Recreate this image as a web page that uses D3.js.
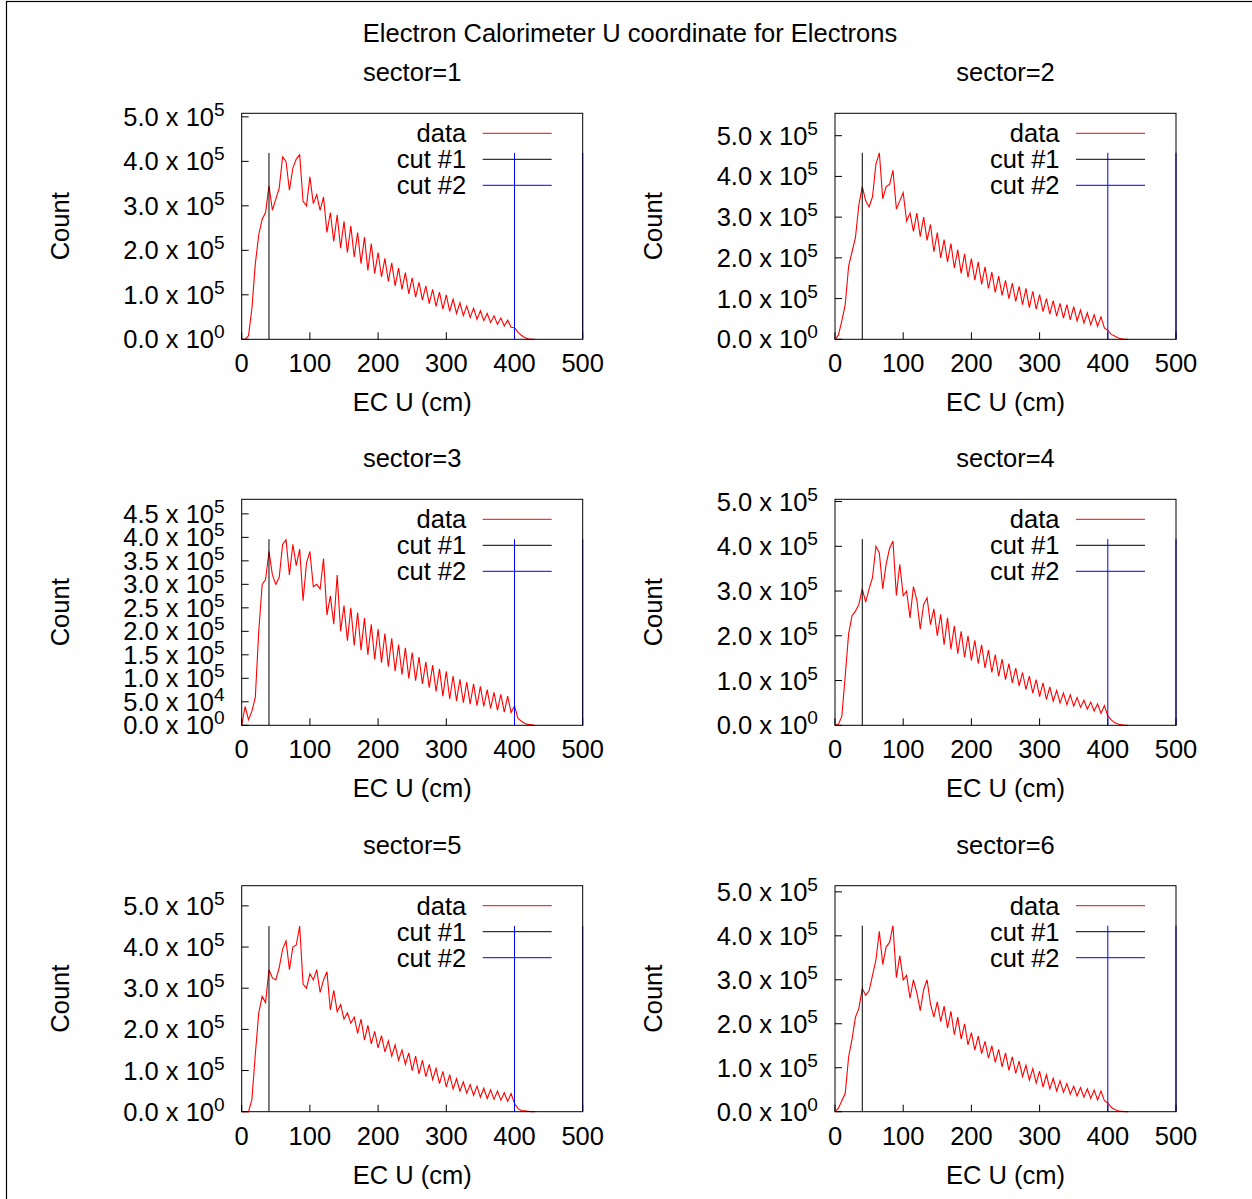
<!DOCTYPE html>
<html>
<head>
<meta charset="utf-8">
<script src="https://cdn.jsdelivr.net/npm/d3@7"></script>
<style>
  body { margin: 0; background: #fff; }
  svg { display: block; font-family: "Liberation Sans", Arial, Helvetica, sans-serif; }
</style>
</head>
<body>
<svg id="chart" width="1252" height="1199"></svg>
<script>
// EC U bin positions (cm)
const ecU = [
  0, 5, 10, 15, 20, 25, 30, 35, 40, 45,
  50, 55, 60, 65, 70, 75, 80, 85, 90, 95,
  100, 105, 110, 115, 120, 125, 130, 135, 140, 145,
  150, 155, 160, 165, 170, 175, 180, 185, 190, 195,
  200, 205, 210, 215, 220, 225, 230, 235, 240, 245,
  250, 255, 260, 265, 270, 275, 280, 285, 290, 295,
  300, 305, 310, 315, 320, 325, 330, 335, 340, 345,
  350, 355, 360, 365, 370, 375, 380, 385, 390, 395,
  400, 405, 410, 415, 420, 425, 430
];

// counts per bin, in thousands
const sector1 = [
  0, 0, 8, 70, 170, 235, 270, 285, 345, 290,
  315, 340, 410, 400, 335, 385, 405, 415, 310, 300,
  365, 305, 325, 290, 320, 240, 285, 220, 280, 205,
  265, 195, 255, 185, 240, 170, 230, 155, 215, 148,
  195, 140, 182, 130, 172, 120, 160, 112, 150, 102,
  138, 95, 128, 88, 120, 80, 112, 74, 106, 68,
  100, 63, 90, 58, 82, 53, 75, 49, 70, 45,
  64, 42, 58, 38, 53, 34, 48, 30, 43, 27,
  26, 16, 9, 4, 1, 0, 0
];
const sector2 = [
  0, 10, 45, 85, 180, 215, 250, 330, 375, 340,
  325, 350, 430, 458, 345, 375, 380, 415, 320, 340,
  360, 290, 310, 265, 310, 252, 300, 243, 282, 215,
  262, 200, 245, 190, 235, 175, 220, 162, 210, 152,
  198, 145, 190, 135, 178, 125, 165, 115, 155, 108,
  145, 100, 138, 93, 130, 85, 125, 78, 118, 74,
  110, 68, 100, 62, 95, 57, 88, 52, 85, 48,
  80, 45, 72, 40, 65, 36, 60, 32, 55, 28,
  22, 12, 8, 4, 1, 0, 0
];
const sector3 = [
  0, 40, 12, 30, 60, 200, 300, 310, 370, 320,
  300, 315, 385, 395, 320, 385, 340, 375, 265, 345,
  370, 295, 300, 290, 355, 235, 275, 215, 320, 200,
  255, 180, 250, 170, 240, 160, 228, 150, 215, 140,
  205, 133, 195, 125, 185, 115, 172, 108, 165, 100,
  155, 95, 145, 88, 135, 80, 128, 72, 120, 62,
  115, 56, 105, 52, 98, 48, 92, 45, 88, 42,
  83, 40, 76, 36, 70, 32, 66, 28, 62, 27,
  41, 15, 9, 4, 2, 1, 0
];
const sector4 = [
  0, 2, 20, 110, 205, 245, 255, 270, 305, 275,
  305, 330, 400, 385, 305, 360, 395, 412, 290, 360,
  290, 300, 240, 310, 280, 215, 270, 285, 225, 260,
  200, 248, 180, 240, 170, 222, 160, 210, 152, 200,
  145, 190, 138, 180, 128, 168, 118, 158, 110, 148,
  102, 138, 95, 128, 88, 118, 80, 110, 72, 102,
  64, 95, 58, 86, 54, 78, 50, 72, 46, 68,
  43, 62, 40, 56, 36, 52, 32, 48, 27, 44,
  21, 12, 6, 3, 1, 0, 0
];
const sector5 = [
  0, 0, 0, 30, 140, 240, 280, 265, 345, 325,
  320, 350, 395, 415, 345, 400, 405, 451, 310, 300,
  335, 320, 345, 290, 320, 340, 247, 295, 243, 260,
  225, 240, 215, 230, 190, 225, 174, 210, 165, 195,
  155, 185, 145, 172, 135, 162, 125, 150, 115, 143,
  100, 135, 92, 125, 85, 115, 78, 105, 68, 98,
  60, 90, 55, 80, 50, 72, 45, 66, 40, 62,
  35, 57, 32, 53, 30, 50, 28, 46, 25, 44,
  20, 8, 3, 2, 1, 0, 0
];
const sector6 = [
  0, 8, 25, 42, 125, 165, 215, 235, 280, 265,
  275, 310, 345, 410, 335, 375, 385, 423, 305, 355,
  300, 310, 258, 300, 270, 230, 278, 300, 245, 215,
  250, 205, 240, 190, 228, 175, 215, 165, 200, 152,
  180, 140, 172, 132, 160, 122, 150, 112, 142, 102,
  134, 94, 125, 87, 115, 80, 106, 72, 98, 65,
  92, 56, 84, 52, 76, 47, 70, 44, 64, 40,
  58, 36, 55, 33, 52, 30, 49, 27, 47, 25,
  20, 10, 5, 2, 1, 0, 0
];
const sectorCounts = [sector1, sector2, sector3, sector4, sector5, sector6];
const sectorTitles = ['sector=1', 'sector=2', 'sector=3', 'sector=4', 'sector=5', 'sector=6'];

// y axis top and tick spacing per panel
const yMaxes = [5.08e5, 5.55e5, 4.81e5, 5.05e5, 5.49e5, 5.14e5];
const yTickSteps = [1e5, 1e5, 5e4, 1e5, 1e5, 1e5];
const xTicks = [0, 100, 200, 300, 400, 500];

// cut lines
const cut1 = [40];
const cut2 = [400, 500];
const cutTops = [4.19e5, 4.58e5, 3.96e5, 4.16e5, 4.51e5, 4.23e5];

const legendLabels = ['data', 'cut #1', 'cut #2'];
const legendColors = ['#ff0000', '#000000', '#0000ff'];

const mainTitle = 'Electron Calorimeter U coordinate for Electrons';
const xLabel = 'EC U (cm)';
const yLabel = 'Count';

const svg = d3.select('#chart');
const fs = 25.5;

svg.append('rect')
  .attr('x', 6.5).attr('y', 1.5)
  .attr('width', 1400).attr('height', 1400)
  .attr('fill', 'none').attr('stroke', '#000').attr('stroke-width', 1.2);

svg.append('text')
  .attr('x', 630).attr('y', 42)
  .attr('text-anchor', 'middle')
  .attr('font-size', fs)
  .text(mainTitle);

const colLefts = [241.7, 835];
const rowTops = [113.3, 499.3, 885.7];
const plotW = 341;
const plotH = 226;

function tickLabel(sel, v) {
  let m = '0.0', e = 0;
  if (v > 0) {
    e = Math.floor(Math.log10(v) + 1e-9);
    m = (v / Math.pow(10, e)).toFixed(1);
  }
  sel.append('tspan').text(`${m} x 10`);
  sel.append('tspan').attr('dy', -10).attr('font-size', fs * 0.75).text(e);
}

sectorCounts.forEach((counts, i) => {
  const left = colLefts[i % 2];
  const top = rowTops[Math.floor(i / 2)];
  const g = svg.append('g').attr('transform', `translate(${left},${top})`);

  const x = d3.scaleLinear().domain([0, 500]).range([0, plotW]);
  const y = d3.scaleLinear().domain([0, yMaxes[i]]).range([plotH, 0]);

  // sector title
  g.append('text')
    .attr('x', plotW / 2).attr('y', -32)
    .attr('text-anchor', 'middle')
    .attr('font-size', fs)
    .text(sectorTitles[i]);

  // y ticks
  const yTicks = d3.range(0, yMaxes[i], yTickSteps[i]);
  yTicks.forEach((v) => {
    g.append('line')
      .attr('x1', 0).attr('x2', 7)
      .attr('y1', y(v)).attr('y2', y(v))
      .attr('stroke', '#000');
    g.append('text')
      .attr('x', -17).attr('y', y(v) + 9)
      .attr('text-anchor', 'end')
      .attr('font-size', fs)
      .call(tickLabel, v);
  });

  // x ticks
  xTicks.forEach((v) => {
    g.append('line')
      .attr('x1', x(v)).attr('x2', x(v))
      .attr('y1', plotH).attr('y2', plotH - 7)
      .attr('stroke', '#000');
    g.append('text')
      .attr('x', x(v)).attr('y', plotH + 33)
      .attr('text-anchor', 'middle')
      .attr('font-size', fs)
      .text(v);
  });

  g.append('text')
    .attr('x', plotW / 2).attr('y', plotH + 72)
    .attr('text-anchor', 'middle')
    .attr('font-size', fs)
    .text(xLabel);

  g.append('text')
    .attr('transform', `translate(${-182},${plotH / 2}) rotate(-90)`)
    .attr('text-anchor', 'middle')
    .attr('dy', '0.35em')
    .attr('font-size', fs)
    .text(yLabel);

  // data line
  const line = d3.line()
    .x((d, k) => x(ecU[k]))
    .y((d) => y(d * 1000));
  g.append('path')
    .datum(counts)
    .attr('d', line)
    .attr('fill', 'none')
    .attr('stroke', legendColors[0])
    .attr('stroke-width', 1.1);

  // cut lines
  cut1.forEach((c) => {
    g.append('line')
      .attr('x1', x(c)).attr('x2', x(c))
      .attr('y1', y(0)).attr('y2', y(cutTops[i]))
      .attr('stroke', legendColors[1]).attr('stroke-width', 1);
  });
  cut2.forEach((c) => {
    g.append('line')
      .attr('x1', x(c)).attr('x2', x(c))
      .attr('y1', y(0)).attr('y2', y(cutTops[i]))
      .attr('stroke', legendColors[2]).attr('stroke-width', 1);
  });

  // frame
  g.append('rect')
    .attr('width', plotW).attr('height', plotH)
    .attr('fill', 'none').attr('stroke', '#000').attr('stroke-width', 1);

  // legend
  legendLabels.forEach((lab, k) => {
    const ly = 20 + k * 26;
    g.append('text')
      .attr('x', 224.5).attr('y', ly + 9)
      .attr('text-anchor', 'end')
      .attr('font-size', fs)
      .text(lab);
    g.append('line')
      .attr('x1', 241).attr('x2', 310)
      .attr('y1', ly).attr('y2', ly)
      .attr('stroke', legendColors[k]).attr('stroke-width', 1);
  });
});
</script>
</body>
</html>
